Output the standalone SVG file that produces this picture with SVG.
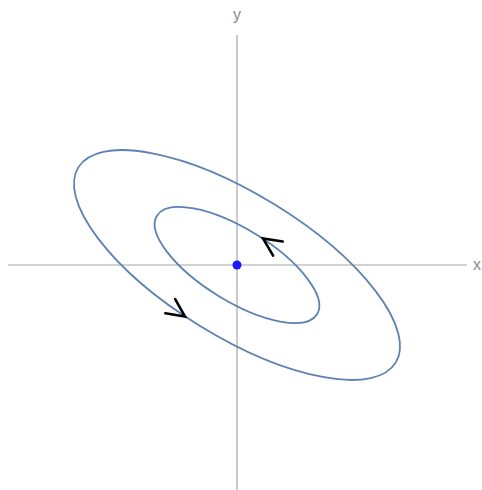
<svg xmlns="http://www.w3.org/2000/svg" width="482" height="490" viewBox="0 0 482 490">
<style>
.axis{stroke:#a6a6a6;stroke-width:1.2;fill:none}
.lbl{font-family:"Liberation Sans",Arial,sans-serif;font-size:16px;fill:#8a8a8a}
.orbit{fill:none;stroke:#5e81b5;stroke-width:1.8}
.arr{fill:none;stroke:#000;stroke-width:2.6;stroke-linecap:round;stroke-linejoin:miter}
</style>
<defs>
<path id="chev" class="arr" d="M-18,-8.6 L0,0 L-18,8.6"/>
</defs>
<rect width="482" height="490" fill="#fff"/>
<g id="axes">
<line class="axis" x1="8" y1="265" x2="467" y2="265"/>
<line class="axis" x1="237" y1="35" x2="237" y2="490"/>
<text class="lbl" x="237" y="20" text-anchor="middle">y</text>
<text class="lbl" x="473" y="270">x</text>
</g>
<g id="outer">
<ellipse class="orbit" cx="237" cy="265" rx="186.3" ry="71.3" transform="rotate(31.6 237 265)"/>
</g>
<g id="inner">
<ellipse class="orbit" cx="237" cy="265" rx="94" ry="36" transform="rotate(31.6 237 265)"/>
</g>
<g id="connectors">
<use href="#chev" transform="translate(185,316.5) rotate(35)"/>
<use href="#chev" transform="translate(263,238.5) rotate(214)"/>
</g>
<g id="origin">
<circle cx="237" cy="265" r="4.5" fill="#1a1aff"/>
</g>
</svg>
